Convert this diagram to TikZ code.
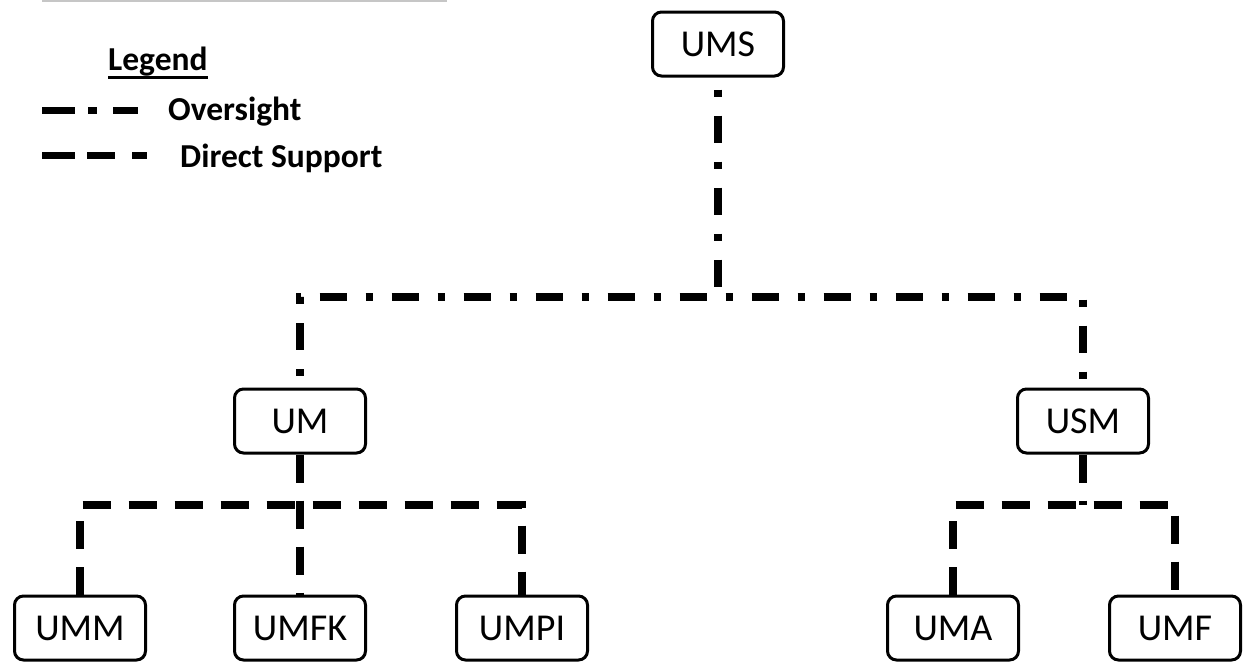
\documentclass[tikz,border=0pt]{standalone}
\usepackage{fontspec}
\setmainfont{Carlito}

\begin{document}
\begin{tikzpicture}
  [x=1pt,y=-1pt,
   unit/.style={rectangle,draw,line width=3pt,rounded corners=9pt,fill=white,
     minimum width=131pt,minimum height=64pt,inner sep=0pt,
     font=\fontsize{38}{40}\selectfont},
   legtext/.style={anchor=base west,inner sep=0pt,
     font=\fontsize{33.5}{36}\selectfont\bfseries},
   oversight/.style={line width=7.5pt,dash pattern=on 27pt off 19pt on 7pt off 19pt,dash phase=34pt},
   support/.style={line width=7.5pt,dash pattern=on 28pt off 18pt}]
  \useasboundingbox (0,0) rectangle (1249,664);
  \draw[gray!45,line width=1.5pt] (42,0.75) -- (447,0.75);

  % Legend
  \node[legtext] (legtitle) at (108,70) {Legend};
  \draw[line width=3pt] ([yshift=-7pt]legtitle.base west) -- ([yshift=-7pt]legtitle.base east);
  \node[legtext] (legover) at (168,120) {Oversight};
  \node[legtext] (legsupp) at (180,167) {Direct Support};
  \draw[line width=7pt,dash pattern=on 33pt off 13pt on 9pt off 16pt] (42,110) -- (138,110);
  \draw[line width=7pt,dash pattern=on 33pt off 12pt on 28pt off 17pt] (42,155) -- (147,155);

  \node[unit] (ums) at (718,44) {UMS};
  \node[unit] (um) at (300,421) {UM};
  \node[unit] (usm) at (1083,421) {USM};
  % Units under UM
  \node[unit] (umm) at (80,628) {UMM};
  \node[unit] (umfk) at (300,628) {UMFK};
  \node[unit] (umpi) at (522,628) {UMPI};
  % Units under USM
  \node[unit] (uma) at (953,628) {UMA};
  \node[unit] (umf) at (1175,628) {UMF};

  \coordinate (ojoin) at (718,297);
  \coordinate (umjoin) at (300,505);
  \coordinate (usmjoin) at (1083,505);

  \draw[oversight] (ums) -- (ojoin);
  \draw[oversight] (um) |- (ojoin) -| (usm);
  \draw[support] (um) -- (umfk);
  \draw[support] (umm) |- (umjoin) -| (umpi);
  \draw[support] (usm) -- (usmjoin);
  \draw[support] (uma) |- (usmjoin) -| (umf);

\end{tikzpicture}
\end{document}
